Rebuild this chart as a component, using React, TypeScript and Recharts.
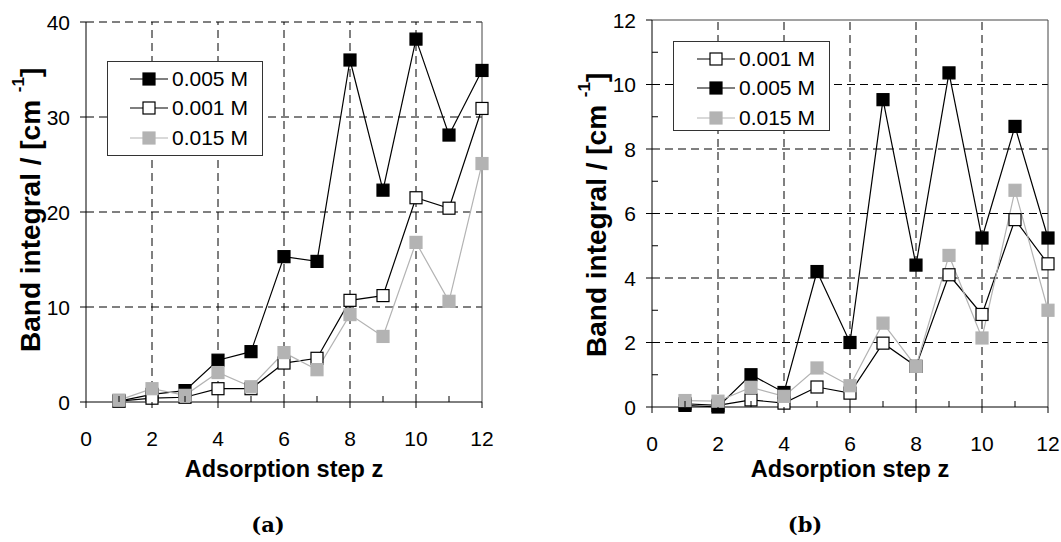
import React from "react";
import { LineChart, Line, XAxis, YAxis, ReferenceLine, Legend } from "recharts";

const FONT = '"Liberation Sans", Arial, Helvetica, sans-serif';

// adsorption steps z
const steps = [1, 2, 3, 4, 5, 6, 7, 8, 9, 10, 11, 12];

// (a) band integral / cm^-1
const a005 = [0.1, 0.8, 1.2, 4.4, 5.3, 15.3, 14.8, 36.0, 22.3, 38.2, 28.1, 34.9];
const a001 = [0.1, 0.4, 0.5, 1.4, 1.4, 4.1, 4.6, 10.7, 11.2, 21.5, 20.4, 30.9];
const a015 = [0.2, 1.4, 0.7, 3.1, 1.6, 5.2, 3.4, 9.2, 6.9, 16.8, 10.6, 25.1];

// (b) band integral / cm^-1
const b001 = [0.1, 0.05, 0.22, 0.12, 0.62, 0.43, 1.98, 1.26, 4.1, 2.87, 5.81, 4.44];
const b005 = [0.05, 0.0, 1.0, 0.45, 4.2, 2.0, 9.53, 4.4, 10.36, 5.24, 8.7, 5.24];
const b015 = [0.2, 0.18, 0.61, 0.33, 1.21, 0.66, 2.6, 1.26, 4.7, 2.14, 6.72, 3.0];

const xTicks = [0, 1, 2, 3, 4, 5, 6, 7, 8, 9, 10, 11, 12];
const xGrid = [2, 4, 6, 8, 10];
const yTicksA = [0, 10, 20, 30, 40];
const yGridA = [10, 20, 30, 40];
const yTicksB = [0, 1, 2, 3, 4, 5, 6, 7, 8, 9, 10, 11, 12];
const yGridB = [2, 4, 6, 8, 10];

const GREY = "#b3b3b3";

const SERIES = {
  c005: { name: "0.005 M", fill: "#000", stroke: "#000", line: "#000" },
  c001: { name: "0.001 M", fill: "#fff", stroke: "#000", line: "#000" },
  c015: { name: "0.015 M", fill: GREY, stroke: GREY, line: GREY },
};

const dataA = steps.map((z, i) => ({ z, c005: a005[i], c001: a001[i], c015: a015[i] }));
const dataB = steps.map((z, i) => ({ z, c001: b001[i], c005: b005[i], c015: b015[i] }));

const squareDot = (fill: string, stroke: string) => (props: any) => {
  const { cx, cy, index } = props;
  if (cx == null || cy == null) return <g key={`e-${index}`} />;
  return (
    <rect
      key={`d-${index}`}
      x={cx - 6}
      y={cy - 6}
      width={12}
      height={12}
      fill={fill}
      stroke={stroke}
      strokeWidth={1.2}
    />
  );
};

const XTick = ({ x, y, payload }: any) => {
  const v = payload.value;
  const major = v % 2 === 0;
  return (
    <g>
      <line x1={x} x2={x} y1={y} y2={major ? y + 6 : y - 6} stroke="#000" />
      {major && (
        <text x={x} y={y + 44} textAnchor="middle" fontSize={21} fontFamily={FONT} fill="#000">
          {v}
        </text>
      )}
    </g>
  );
};

const makeYTick = (step: number) => ({ x, y, payload }: any) => {
  const v = payload.value;
  const major = v % step === 0;
  return (
    <g>
      <line x1={x} x2={major ? x - 6 : x + 6} y1={y} y2={y} stroke="#000" />
      {major && (
        <text
          x={x - 16}
          y={y}
          textAnchor="end"
          dominantBaseline="central"
          fontSize={21}
          fontFamily={FONT}
          fill="#000"
        >
          {v}
        </text>
      )}
    </g>
  );
};

const YTitle = (props: any) => {
  const vb = props.viewBox;
  const x = vb.x + 4;
  const y = vb.y + vb.height - 50;
  return (
    <text
      x={x}
      y={y}
      transform={`rotate(-90, ${x}, ${y})`}
      textAnchor="start"
      dominantBaseline="central"
      fontSize={28}
      fontWeight="bold"
      fontFamily={FONT}
      fill="#000"
    >
      Band integral / [cm{" "}
      <tspan fontSize={17} dy={-12}>
        -1
      </tspan>
      <tspan dy={12}>]</tspan>
    </text>
  );
};

const XTitle = (props: any) => {
  const vb = props.viewBox;
  return (
    <text
      x={vb.x + vb.width / 2}
      y={477}
      textAnchor="middle"
      fontSize={23.5}
      fontWeight="bold"
      fontFamily={FONT}
      fill="#000"
    >
      Adsorption step z
    </text>
  );
};

const LegendBox = ({ order, lineLeft }: { order: string[]; lineLeft: number }) => (
  <div
    style={{
      border: "1px solid #333",
      background: "#fff",
      width: "100%",
      height: "100%",
      boxSizing: "border-box",
      paddingTop: 2,
      fontFamily: FONT,
      fontSize: 21,
    }}
  >
    {order.map((key) => {
      const s = (SERIES as any)[key];
      return (
        <div key={key} style={{ height: 29.5, display: "flex", alignItems: "center" }}>
          <svg width={lineLeft + 40} height={16} style={{ flex: "none" }}>
            <line x1={lineLeft} x2={lineLeft + 38} y1={8} y2={8} stroke={s.line} strokeWidth={1.2} />
            <rect x={lineLeft + 13} y={2} width={12} height={12} fill={s.fill} stroke={s.stroke} strokeWidth={1.2} />
          </svg>
          <span style={{ marginLeft: 2, color: "#000" }}>{s.name}</span>
        </div>
      );
    })}
  </div>
);

function Panel({
  data,
  order,
  yMax,
  yTicks,
  yGrid,
  yStep,
  margin,
  width,
  legendPos,
  topSolid,
}: any) {
  const YTick = makeYTick(yStep);
  return (
    <LineChart width={width} height={542} data={data} margin={margin}>
      {xGrid.map((v) => (
        <ReferenceLine key={`vx-${v}`} x={v} stroke="#000" strokeDasharray="8 5" />
      ))}
      {yGrid.map((v: number) => (
        <ReferenceLine key={`hy-${v}`} y={v} stroke="#000" strokeDasharray="8 5" />
      ))}
      <ReferenceLine x={12} stroke="#444" />
      {topSolid && <ReferenceLine y={yMax} stroke="#444" />}
      <XAxis
        type="number"
        dataKey="z"
        domain={[0, 12]}
        ticks={xTicks}
        interval={0}
        height={60}
        tickSize={0}
        tickMargin={0}
        tick={<XTick />}
        axisLine={{ stroke: "#000" }}
        label={{ content: XTitle }}
      />
      <YAxis
        type="number"
        domain={[0, yMax]}
        ticks={yTicks}
        interval={0}
        width={60}
        tickSize={0}
        tickMargin={0}
        tick={<YTick />}
        axisLine={{ stroke: "#000" }}
        label={{ content: YTitle }}
      />
      <Legend
        layout="vertical"
        align="center"
        verticalAlign="middle"
        wrapperStyle={legendPos}
        content={() => <LegendBox order={order} lineLeft={legendPos.lineLeft} />}
      />
      {order.map((key: string) => {
        const s = (SERIES as any)[key];
        return (
          <Line
            key={key}
            type="linear"
            dataKey={key}
            name={s.name}
            stroke={s.line}
            strokeWidth={1.2}
            dot={squareDot(s.fill, s.stroke)}
            activeDot={false}
            isAnimationActive={false}
          />
        );
      })}
    </LineChart>
  );
}

const Caption = ({ left, text }: { left: number; text: string }) => (
  <div
    style={{
      position: "absolute",
      left: left - 30,
      width: 60,
      top: 512,
      textAlign: "center",
      fontFamily: '"DejaVu Serif", "Liberation Serif", serif',
      fontWeight: "bold",
      fontSize: 21,
    }}
  >
    {text}
  </div>
);

export default function App() {
  return (
    <div
      style={{
        position: "absolute",
        left: 0,
        top: 0,
        width: 1061,
        height: 542,
        background: "#fff",
        overflow: "hidden",
      }}
    >
      <div style={{ position: "absolute", left: 0, top: 0 }}>
        <Panel
          data={dataA}
          order={["c005", "c001", "c015"]}
          yMax={40}
          yTicks={yTicksA}
          yGrid={yGridA}
          yStep={10}
          width={530}
          margin={{ top: 22, right: 48, bottom: 80, left: 26 }}
          legendPos={{ left: 107, top: 61, width: 156, height: 95, lineLeft: 22 }}
          topSolid={false}
        />
      </div>
      <div style={{ position: "absolute", left: 530, top: 0 }}>
        <Panel
          data={dataB}
          order={["c001", "c005", "c015"]}
          yMax={12}
          yTicks={yTicksB}
          yGrid={yGridB}
          yStep={2}
          width={531}
          margin={{ top: 20, right: 13, bottom: 75, left: 62 }}
          legendPos={{ left: 143, top: 41, width: 157, height: 90, lineLeft: 23 }}
          topSolid={true}
        />
      </div>
      <Caption left={268} text="(a)" />
      <Caption left={805} text="(b)" />
    </div>
  );
}
